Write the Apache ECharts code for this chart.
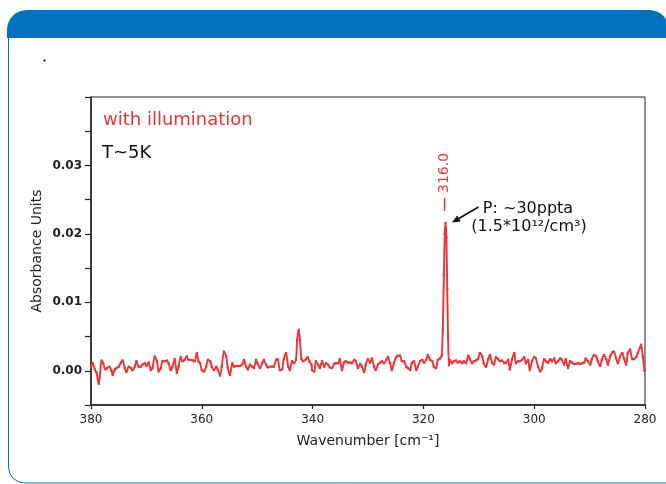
<!DOCTYPE html>
<html>
<head>
<meta charset="utf-8">
<script src="https://cdn.jsdelivr.net/npm/echarts@6/dist/echarts.min.js"></script>
<style>
html,body{margin:0;padding:0;background:#fff;}
#c{width:666px;height:484px;}
</style>
</head>
<body>
<div id="c"></div>
<script>
// Wavenumber (cm^-1)
const wavenumbers = [
380.0,379.7,379.3,379.0,378.6,378.4,378.1,377.8,377.4,377.1,376.7,376.3,376.1,375.7,375.4,375.0,374.6,374.3,373.9,373.6,
373.2,372.8,372.5,372.1,371.8,371.4,371.0,370.7,370.3,370.0,369.6,369.2,368.9,368.5,368.1,367.8,367.4,367.1,366.7,366.3,
366.0,365.6,365.3,364.9,364.5,364.2,363.8,363.5,363.1,362.7,362.4,362.0,361.6,361.3,360.9,360.6,
360.3,360.0,359.6,359.2,358.9,358.5,358.2,357.8,357.4,357.1,356.7,356.4,356.0,355.6,355.3,354.9,354.5,354.2,353.8,353.5,
353.1,352.7,352.4,352.0,351.7,351.3,350.9,350.6,350.2,349.9,349.5,349.1,348.8,348.4,348.1,347.7,347.3,347.0,346.6,346.3,
345.9,345.5,345.2,344.8,344.4,344.1,343.7,343.4,343.0,342.8,342.5,342.3,342.0,341.7,341.3,340.9,340.6,340.2,
340.1,339.7,339.4,339.0,338.7,338.3,337.9,337.6,337.2,336.9,336.5,336.1,335.8,335.4,335.1,334.7,334.3,334.0,333.6,333.2,
332.9,332.5,332.2,331.8,331.4,331.1,330.7,330.4,330.0,329.6,329.3,328.9,328.6,328.2,327.8,327.5,327.1,326.7,326.4,326.0,
325.7,325.3,324.9,324.6,324.2,323.9,323.5,323.1,322.8,322.4,322.1,321.7,321.3,321.0,320.6,320.2,
319.9,319.5,319.2,318.8,318.4,318.1,317.7,317.4,317.0,316.7,316.5,316.3,316.15,316.0,315.85,315.7,315.55,315.4,315.2,
314.8,314.5,314.1,313.8,313.4,313.0,312.7,312.3,311.9,311.6,311.2,310.9,310.5,310.1,309.8,309.4,309.1,308.7,308.3,308.0,
307.6,307.25,306.9,306.5,306.2,305.8,305.4,305.1,304.7,304.4,304.0,303.6,303.3,302.9,302.6,302.2,301.8,301.5,301.1,300.8,
300.4,300.0,
299.7,299.3,298.9,298.6,298.2,297.9,297.5,297.1,296.8,296.4,296.1,295.7,295.3,295.0,294.6,294.3,293.9,293.5,293.2,292.8,
292.5,292.1,291.7,291.4,291.0,290.7,290.3,289.9,289.6,289.2,288.8,288.5,288.1,287.8,287.4,287.0,286.7,286.3,285.9,285.6,
285.2,284.9,284.5,284.1,283.8,283.4,283.1,282.7,282.35,282.0,281.6,281.3,280.9,280.7,280.4,280.1
];
// Absorbance units
const absorbance = [
0.0006,0.0011,0.0002,-0.0003,-0.0019,-0.0008,0.0015,0.0011,0.0002,0.0004,0.0006,0.0000,-0.0006,0.0002,0.0004,0.0006,0.0012,0.0015,0.0004,-0.0002,
0.0006,0.0004,0.0001,0.0006,0.0014,0.0006,0.0006,0.0009,0.0011,0.0007,0.0012,0.0001,0.0004,0.0021,0.0014,-0.0001,0.0004,0.0014,0.0014,0.0015,
0.0011,0.0001,0.0006,0.0017,-0.0003,0.0006,0.0020,0.0014,0.0016,0.0021,0.0016,0.0016,0.0015,0.0014,0.0026,0.0014,
0.0011,0.0001,-0.0001,0.0006,0.0016,0.0014,0.0006,0.0001,0.0006,0.0001,-0.0007,0.0006,0.0028,0.0021,0.0004,-0.0006,0.0011,0.0006,0.0007,0.0007,
0.0007,0.0009,0.0016,0.0006,0.0002,0.0009,0.0006,0.0004,0.0016,0.0010,0.0004,0.0011,0.0016,0.0009,0.0005,0.0006,0.0006,0.0006,0.0016,0.0017,
0.0001,0.0002,0.0017,0.0026,0.0006,0.0001,0.0014,0.0011,0.0016,0.0045,0.0060,0.0045,0.0017,0.0014,0.0016,0.0020,0.0014,0.0009,
0.0001,-0.0001,0.0014,0.0009,0.0004,0.0014,0.0006,0.0011,0.0009,0.0005,0.0004,0.0010,0.0011,0.0011,0.0017,0.0001,0.0012,0.0014,0.0012,0.0012,
0.0011,0.0016,0.0014,0.0004,0.0010,0.0006,-0.0002,0.0009,0.0017,0.0012,0.0018,0.0006,0.0001,0.0009,0.0012,0.0014,0.0011,0.0016,0.0020,0.0011,
0.0001,0.0012,0.0020,0.0022,0.0022,0.0014,0.0014,0.0006,0.0004,0.0001,0.0011,0.0014,0.0001,0.0006,0.0014,0.0016,
0.0012,0.0016,0.0023,0.0016,0.0014,0.0006,0.0004,0.0016,0.0018,0.0022,0.0060,0.0140,0.0200,0.0216,0.0195,0.0120,0.0050,0.0008,0.0016,
0.0011,0.0014,0.0015,0.0012,0.0014,0.0011,0.0014,0.0011,0.0022,0.0017,0.0011,0.0014,0.0015,0.0018,0.0026,0.0021,0.0011,0.0006,0.0017,0.0023,
0.0012,0.0009,0.0020,0.0017,0.0014,0.0015,0.0011,0.0012,0.0016,0.0002,0.0017,0.0026,0.0011,0.0014,0.0014,0.0016,0.0020,0.0011,0.0016,0.0001,
0.0014,0.0020,
0.0018,0.0006,-0.0001,0.0004,0.0017,0.0014,0.0012,0.0017,0.0014,0.0018,0.0011,0.0014,0.0018,0.0016,0.0009,0.0017,0.0004,0.0014,0.0012,0.0010,
0.0010,0.0011,0.0010,0.0011,0.0012,0.0018,0.0014,0.0009,0.0017,0.0023,0.0021,0.0014,0.0007,0.0016,0.0023,0.0017,0.0009,0.0021,0.0027,0.0028,
0.0018,0.0011,0.0021,0.0026,0.0018,0.0009,0.0026,0.0031,0.0018,0.0017,0.0020,0.0026,0.0034,0.0038,0.0021,0.0000
];
const xTicks = [380, 360, 340, 320, 300, 280];
const yTickLabels = ['0.00', '0.01', '0.02', '0.03'];
const peakPosition = 316.0;
const peakHeight = 0.0216;
const peakLabel = '316.0';

const FONT = 'DejaVu Sans';
const RED = '#EE3338';
const BLUE = '#0071BC';

const seriesData = wavenumbers.map((w, i) => [w, absorbance[i]]);

const chart = echarts.init(document.getElementById('c'), null, {renderer: 'canvas'});

const option = {
  animation: false,
  backgroundColor: '#fff',
  grid: {left: 91, right: 21, top: 97, bottom: 79, show: true, borderColor: '#222', borderWidth: 1, backgroundColor: 'transparent'},
  xAxis: {
    type: 'value', inverse: true, min: xTicks[xTicks.length - 1], max: xTicks[0], interval: 20,
    name: 'Wavenumber [cm\u207B\u00B9]', nameLocation: 'middle', nameGap: 29, nameMoveOverlap: false,
    nameTextStyle: {fontFamily: FONT, fontSize: 14, color: '#222'},
    axisLine: {show: true, onZero: false, lineStyle: {color: '#222', width: 1.5}},
    axisTick: {show: true, inside: false, length: 4, lineStyle: {color: '#222', width: 1.2}},
    axisLabel: {fontFamily: FONT, fontSize: 12, color: '#222', margin: 9,
      formatter: v => xTicks.includes(v) ? String(v) : ''},
    splitLine: {show: false}
  },
  yAxis: {
    type: 'value', min: -0.005, max: 0.04, interval: 0.005,
    name: 'Absorbance Units', nameLocation: 'middle', nameGap: 47, nameRotate: 90, nameMoveOverlap: false,
    nameTextStyle: {fontFamily: FONT, fontSize: 14, color: '#222'},
    axisLine: {show: true, onZero: false, lineStyle: {color: '#222', width: 1.5}},
    axisTick: {show: true, inside: false, length: 6, lineStyle: {color: '#222', width: 1.2}},
    axisLabel: {fontFamily: FONT, fontSize: 12, fontWeight: 'bold', color: '#222', margin: 9,
      formatter: v => {
        const s = v.toFixed(2);
        const isMajor = Math.abs(Math.round(v * 100) - v * 100) < 1e-6;
        return (isMajor && yTickLabels.includes(s)) ? s : '';
      }},
    splitLine: {show: false}
  },
  series: [{
    type: 'line', data: seriesData, showSymbol: true, symbol: 'rect', symbolSize: 2.2, smooth: 0.25,
    itemStyle: {color: RED}, lineStyle: {color: RED, width: 1.9}, silent: true, clip: true
  }],
  graphic: [
    {type: 'rect', id: 'header', shape: {x: 7, y: 10, width: 662, height: 28, r: [20, 20, 0, 0]}, style: {fill: BLUE}},
    {type: 'rect', id: 'panel', shape: {x: 8.5, y: 36, width: 700, height: 447, r: [0, 0, 0, 16]}, style: {fill: 'none', stroke: BLUE, lineWidth: 1}},
    {type: 'circle', id: 'dot', shape: {cx: 44.5, cy: 60.5, r: 1.1}, style: {fill: '#000'}},
    {type: 'text', id: 't1', left: 103, top: 111, style: {text: 'with illumination', fill: RED, font: '18px "DejaVu Sans"'}},
    {type: 'text', id: 't2', left: 102, top: 144, style: {text: 'T~5K', fill: '#111', font: '18px "DejaVu Sans"'}},
    {type: 'text', id: 't3', style: {x: 528, y: 209, text: 'P: ~30ppta', fill: '#111', font: '16px "DejaVu Sans"', align: 'center', verticalAlign: 'middle'}},
    {type: 'text', id: 't4', style: {x: 529, y: 227, text: '(1.5*10\u00B9\u00B2/cm\u00B3)', fill: '#111', font: '16px "DejaVu Sans"', align: 'center', verticalAlign: 'middle'}},
    {type: 'line', id: 'arrowLine', shape: {x1: 478.5, y1: 207, x2: 458, y2: 219}, style: {stroke: '#111', lineWidth: 1.6}},
    {type: 'polygon', id: 'arrowHead', shape: {points: [[452, 222.5], [460.7, 221.5], [457.2, 215.5]]}, style: {fill: '#111'}}
  ]
};
chart.setOption(option);

// peak annotation positioned from the data through the axes
const p = chart.convertToPixel({gridIndex: 0}, [peakPosition, peakHeight]);
chart.setOption({
  graphic: [
    {type: 'line', id: 'peakTick', shape: {x1: p[0] - 1, y1: p[1] - 25, x2: p[0] - 1, y2: p[1] - 12}, style: {stroke: RED, lineWidth: 1.5}},
    {type: 'text', id: 'peakLabel', x: p[0] - 1, y: p[1] - 50, rotation: Math.PI / 2,
      style: {text: peakLabel, fill: RED, font: '14px "DejaVu Sans"', align: 'center', verticalAlign: 'middle'}}
  ]
});
</script>
</body>
</html>
